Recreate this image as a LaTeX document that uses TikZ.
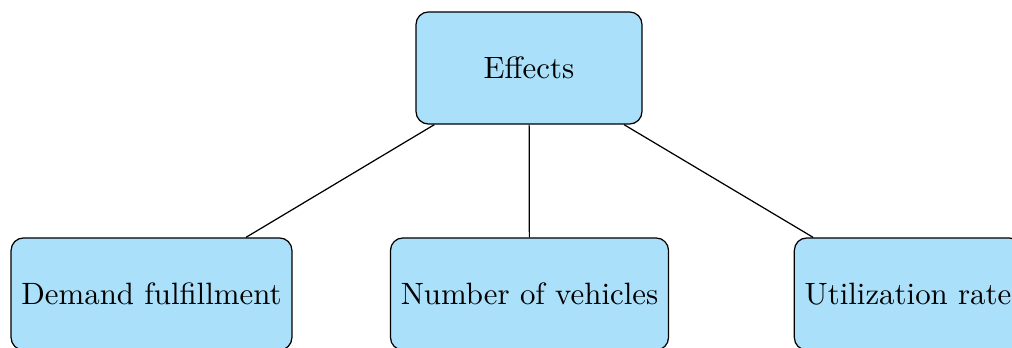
\documentclass[tikz,border=0pt]{standalone}
\definecolor{boxblue}{HTML}{ABE0FA}
\begin{document}
\begin{tikzpicture}[x=0.324pt,y=-0.324pt,
  box/.style={draw, fill=boxblue, rounded corners=4pt, minimum height=36.3pt, inner sep=3.33pt},
  topbox/.style={box, minimum width=73.2pt}]
\clip (0,0) rectangle (1012,348);
\useasboundingbox (0,0) rectangle (1012,348);
\node[topbox] (eff) at (529,68) {Effects};
\node[box] (dem) at (151.5,294) {Demand fulfillment};
\node[box] (num) at (529.5,294) {Number of vehicles};
\node[box] (util) at (908,294) {Utilization rate};
\draw (eff) -- (dem);
\draw (eff) -- (num);
\draw (eff) -- (util);
\end{tikzpicture}
\end{document}
